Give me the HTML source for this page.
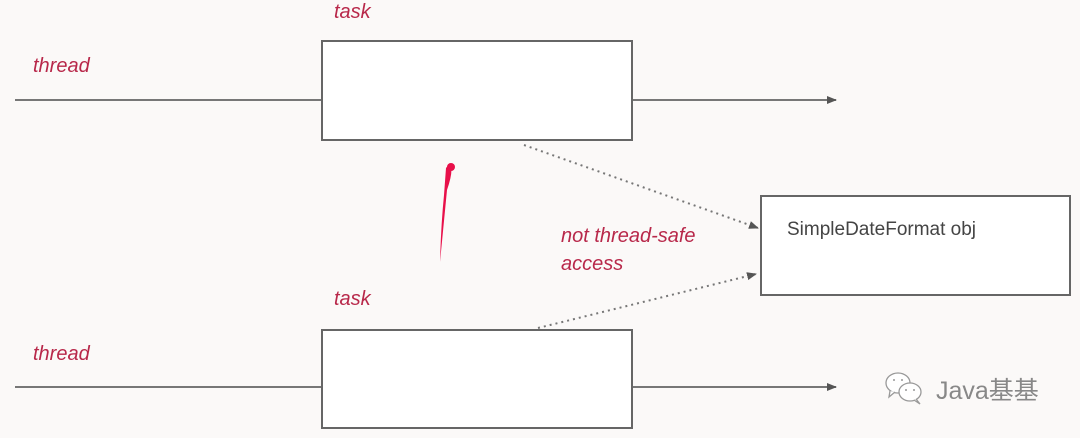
<!DOCTYPE html>
<html><head><meta charset="utf-8"><style>
body{margin:0;width:1080px;height:438px;background:#fbf9f8;overflow:hidden;position:relative;font-family:"Liberation Sans",sans-serif}
.r{position:absolute;color:#b8284a;font-style:italic;font-size:20px}
</style></head><body>
<svg width="1080" height="438" style="position:absolute;left:0;top:0">
<defs><marker id="a" markerWidth="10" markerHeight="8" refX="9" refY="4" orient="auto" markerUnits="userSpaceOnUse"><path d="M0,0 L10,4 L0,8z" fill="#555"/></marker></defs>
<line x1="15" y1="100" x2="836" y2="100" stroke="#777" stroke-width="2" marker-end="url(#a)"/>
<line x1="15" y1="387" x2="836" y2="387" stroke="#777" stroke-width="2" marker-end="url(#a)"/>
<rect x="322" y="41" width="310" height="99" fill="#fff" stroke="#666" stroke-width="2"/>
<rect x="322" y="330" width="310" height="98" fill="#fff" stroke="#666" stroke-width="2"/>
<rect x="761" y="196" width="309" height="99" fill="#fff" stroke="#666" stroke-width="2"/>
<line x1="524" y1="145" x2="758" y2="228" stroke="#777" stroke-width="2" stroke-dasharray="2,4" marker-end="url(#a)"/>
<line x1="538" y1="328" x2="756" y2="274" stroke="#777" stroke-width="2" stroke-dasharray="2,4" marker-end="url(#a)"/>
<path d="M450,163 Q454,170 447,190 L440,262 Q441,225 444,195 L446,168z" fill="#e8104a"/>
<circle cx="451" cy="167" r="4" fill="#e8104a"/>
<g fill="#fff" stroke="#999" stroke-width="1.3">
<ellipse cx="898" cy="383" rx="12" ry="10"/>
<path d="M890,391 L889,397 L895,392"/>
<ellipse cx="910" cy="392" rx="11" ry="9"/>
<path d="M916,399 L920,404 L914,400"/>
</g>
<g fill="#999"><circle cx="894" cy="380" r="1"/><circle cx="902" cy="380" r="1"/><circle cx="906" cy="390" r="1"/><circle cx="914" cy="390" r="1"/></g>
</svg>
<div class="r" style="left:334px;top:1px">task</div>
<div class="r" style="left:33px;top:55px">thread</div>
<div class="r" style="left:334px;top:288px">task</div>
<div class="r" style="left:33px;top:343px">thread</div>
<div class="r" style="left:561px;top:222px;line-height:28px">not thread-safe<br>access</div>
<div style="position:absolute;left:787px;top:219px;font-size:19px;color:#444">SimpleDateFormat obj</div>
<div style="position:absolute;left:936px;top:371px;font-size:25px;color:#888;font-family:'Liberation Sans','Noto Sans CJK SC',sans-serif">Java基基</div>
</body></html>
